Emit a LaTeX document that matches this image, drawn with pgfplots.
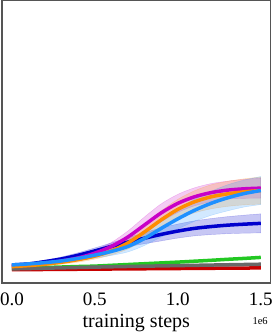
\documentclass[border=0pt]{standalone}
\usepackage{fontspec}
\setmainfont{Liberation Serif}
\usepackage{pgfplots}
\pgfplotsset{compat=1.18}
\usepackage{pgfplotstable}
\usepgfplotslibrary{fillbetween}

\definecolor{cnavy}{RGB}{0,0,205}
\definecolor{cmag}{RGB}{200,0,200}
\definecolor{corange}{RGB}{255,140,0}
\definecolor{clblue}{RGB}{30,144,255}
\definecolor{cgreen}{RGB}{34,200,34}
\definecolor{cgray}{RGB}{105,105,105}
\definecolor{cred}{RGB}{200,0,0}
\definecolor{cframe}{RGB}{85,85,85}

\pgfplotstableread{
x y e
0.0 18.0 1
0.1 19.0 1
0.2 21.3 1.5
0.3 24.0 2
0.4 27.7 2.5
0.5 32.0 3
0.6 36.5 3.5
0.7 40.8 4.5
0.8 44.7 5.5
0.9 48.5 6.5
1.0 51.8 7
1.1 54.5 7.5
1.2 56.3 8
1.3 57.7 8.5
1.4 58.7 9
1.5 59.5 9.5
}\navy

\pgfplotstableread{
x y e
0.0 17.0 1
0.1 18.0 1
0.2 19.8 1.5
0.3 22.0 2
0.4 25.0 2.5
0.5 29.8 3
0.6 36.5 4
0.7 46.0 6
0.8 58.0 8
0.9 70.0 9
1.0 79.5 9
1.1 86.0 9
1.2 90.2 9
1.3 92.7 9
1.4 94.0 9.5
1.5 94.7 10
}\magenta

\pgfplotstableread{
x y e
0.0 16.3 1
0.1 17.3 1
0.2 18.7 1.5
0.3 20.7 2
0.4 23.3 2.5
0.5 26.8 3
0.6 32.0 4
0.7 40.0 6
0.8 51.0 8
0.9 63.0 9
1.0 73.5 10
1.1 81.0 11
1.2 86.0 12
1.3 89.0 12.5
1.4 91.0 13
1.5 92.3 13.5
}\orange

\pgfplotstableread{
x y e
0.0 18.0 1
0.1 19.0 1
0.2 20.3 1.5
0.3 22.0 2
0.4 24.6 2.5
0.5 27.8 3
0.6 31.5 4
0.7 36.5 5.5
0.8 44.5 7
0.9 54.5 8.5
1.0 64.0 10
1.1 72.5 11
1.2 79.5 12
1.3 85.0 13
1.4 89.3 13.5
1.5 92.3 14
}\lblue

\pgfplotstableread{
x y
0.0 14.5
0.1 15.0
0.2 15.4
0.3 15.9
0.4 16.4
0.5 16.8
0.6 17.6
0.7 18.4
0.8 19.2
0.9 20.0
1.0 20.8
1.1 21.7
1.2 22.6
1.3 23.6
1.4 24.5
1.5 25.5
}\green

\pgfplotstableread{
x y
0.0 14.0
0.25 14.9
0.5 15.8
0.75 16.6
1.0 17.3
1.25 18.0
1.5 18.7
}\gray

\pgfplotstableread{
x y
0.0 13.2
0.5 13.8
1.0 14.4
1.5 15.0
}\red

\begin{document}
\begin{tikzpicture}
\begin{axis}[
  width=268.5pt, height=282pt, scale only axis,
  xmin=-0.06, xmax=1.56, ymin=0, ymax=282,
  axis line style={cframe, line width=1.2pt},
  ytick=\empty,
  xtick={0,0.5,1,1.5}, xticklabels={0.0,0.5,1.0,1.5},
  major tick length=0pt,
  xticklabel style={font=\fontsize{19}{19}\selectfont, inner sep=0pt, yshift=-10pt},
]
% bands
\addplot[name path=nU, draw=none, smooth, forget plot] table[x=x, y expr=\thisrow{y}+\thisrow{e}] {\navy};
\addplot[name path=nL, draw=none, smooth, forget plot] table[x=x, y expr=\thisrow{y}-\thisrow{e}] {\navy};
\addplot[fill=cnavy, fill opacity=0.22, draw=cnavy, draw opacity=0.25, forget plot] fill between[of=nU and nL];
\addplot[name path=mU, draw=none, smooth, forget plot] table[x=x, y expr=\thisrow{y}+\thisrow{e}] {\magenta};
\addplot[name path=mL, draw=none, smooth, forget plot] table[x=x, y expr=\thisrow{y}-\thisrow{e}] {\magenta};
\addplot[fill=cmag, fill opacity=0.2, draw=cmag, draw opacity=0.25, forget plot] fill between[of=mU and mL];
\addplot[name path=oU, draw=none, smooth, forget plot] table[x=x, y expr=\thisrow{y}+\thisrow{e}] {\orange};
\addplot[name path=oL, draw=none, smooth, forget plot] table[x=x, y expr=\thisrow{y}-\thisrow{e}] {\orange};
\addplot[fill=corange, fill opacity=0.2, draw=corange, draw opacity=0.25, forget plot] fill between[of=oU and oL];
\addplot[name path=bU, draw=none, smooth, forget plot] table[x=x, y expr=\thisrow{y}+\thisrow{e}] {\lblue};
\addplot[name path=bL, draw=none, smooth, forget plot] table[x=x, y expr=\thisrow{y}-\thisrow{e}] {\lblue};
\addplot[fill=clblue, fill opacity=0.2, draw=clblue, draw opacity=0.25, forget plot] fill between[of=bU and bL];
% lines
\addplot[cred, line width=3.5pt, smooth] table[x=x, y=y] {\red};
\addplot[cgreen, line width=3.5pt, smooth] table[x=x, y=y] {\green};
\addplot[cgray, line width=3.5pt, smooth] table[x=x, y=y] {\gray};
\addplot[cnavy, line width=3.5pt, smooth] table[x=x, y=y] {\navy};
\addplot[cmag, line width=3.5pt, smooth] table[x=x, y=y] {\magenta};
\addplot[corange, line width=3.5pt, smooth] table[x=x, y=y] {\orange};
\addplot[clblue, line width=3.5pt, smooth] table[x=x, y=y] {\lblue};
\end{axis}
\node[anchor=base, inner sep=0pt, font=\fontsize{20}{20}\selectfont] at ([yshift=-44.3pt]current axis.south) {training steps};
\node[anchor=base east, inner sep=0pt, font=\fontsize{10.5}{10.5}\selectfont] at ([xshift=-2.8pt, yshift=-42pt]current axis.south east) {1e6};
\path ([yshift=-52pt]current axis.south) -- ++(0,0);
\end{tikzpicture}
\end{document}
